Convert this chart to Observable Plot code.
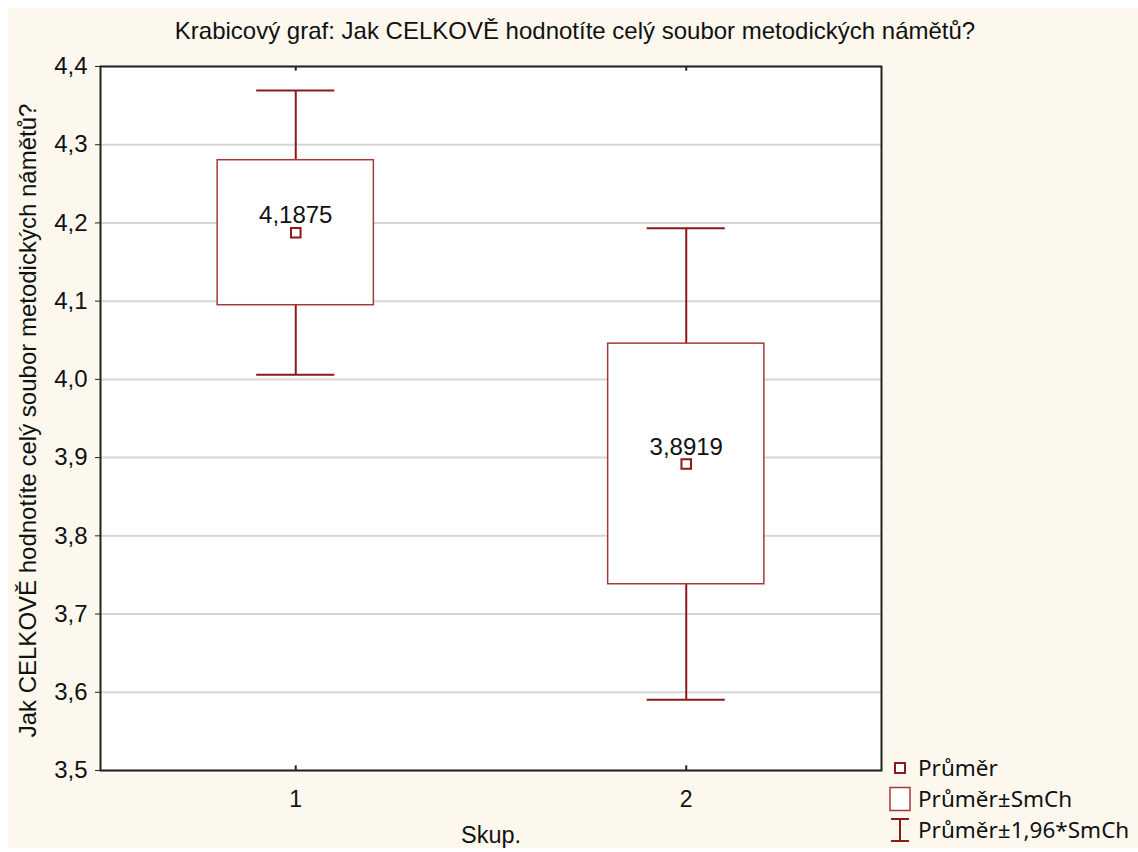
<!DOCTYPE html>
<html>
<head>
<meta charset="utf-8">
<script src="https://cdn.jsdelivr.net/npm/d3@7"></script>
<script src="https://cdn.jsdelivr.net/npm/@observablehq/plot@0.6"></script>
<style>
  html, body { margin: 0; padding: 0; background: #ffffff; }
  #page { position: relative; width: 1138px; height: 852px; overflow: hidden; }
  #paper { position: absolute; left: 8px; top: 8px; right: 0; bottom: 4px; background: #fdf8ee; }
  #chart { position: absolute; left: 0; top: 0; }
  #title { position: absolute; left: 0; width: 1150px; top: 17px; text-align: center;
           font-family: "Liberation Sans", Arial, sans-serif; font-size: 24px; color: #111; }
  #legend { position: absolute; left: 888px; top: 752px; font-family: "Noto Sans", "Open Sans", sans-serif;
            font-size: 22.5px; color: #111; }
  #legend .row { display: flex; align-items: center; height: 31px; }
  #legend svg { width: 24px; height: 26px; margin-right: 6px; }
</style>
</head>
<body>
<div id="page">
  <div id="paper"></div>
  <div id="chart"></div>
  <div id="title">Krabicový graf: Jak CELKOVĚ hodnotíte celý soubor metodických námětů?</div>
  <div id="legend"></div>
</div>
<script>
// Groups and their summary statistics (mean and standard error)
const groups = [1, 2];
const means = [4.1875, 3.8919];
const stdErrors = [0.0927, 0.1538];
const yTicks = [3.5, 3.6, 3.7, 3.8, 3.9, 4.0, 4.1, 4.2, 4.3, 4.4];
const xLabel = "Skup.";
const yLabel = "Jak CELKOVĚ hodnotíte celý soubor metodických námětů?";
const legendLabels = ["Průměr", "Průměr±SmCh", "Průměr±1,96*SmCh"];

const RED = "#8b1a1a";
const BOX_STROKE = "#a33a3a";
const z = 1.96;          // multiplier for the whiskers
const boxHalf = 0.2;     // half-width of the box, in x units
const capHalf = 0.1;     // half-width of the whisker caps

const rows = groups.map((g, i) => ({
  g,
  mean: means[i],
  se: stdErrors[i],
  lo1: means[i] - stdErrors[i],
  hi1: means[i] + stdErrors[i],
  lo2: means[i] - z * stdErrors[i],
  hi2: means[i] + z * stdErrors[i]
}));

const comma = (d, digits) => d.toFixed(digits).replace(".", ",");

const chart = Plot.plot({
  width: 1138,
  height: 852,
  marginLeft: 100,
  marginRight: 257,
  marginTop: 66,
  marginBottom: 82,
  style: { background: "transparent", fontFamily: "'Liberation Sans', Arial, sans-serif", color: "#111" },
  x: { domain: [0.5, 2.5] },
  y: { domain: [3.5, 4.4] },
  marks: [
    Plot.frame({ fill: "white" }),
    Plot.gridY(yTicks, { stroke: "#d6d6d6", strokeOpacity: 1, strokeWidth: 2 }),
    // whisker stems: mean ± 1.96·SE
    Plot.ruleX(rows, { x: "g", y1: "lo2", y2: "hi2", stroke: RED, strokeWidth: 2 }),
    // whisker caps
    Plot.ruleY(rows, { y: "hi2", x1: d => d.g - capHalf, x2: d => d.g + capHalf, stroke: RED, strokeWidth: 2 }),
    Plot.ruleY(rows, { y: "lo2", x1: d => d.g - capHalf, x2: d => d.g + capHalf, stroke: RED, strokeWidth: 2 }),
    // boxes: mean ± SE
    Plot.rect(rows, { x1: d => d.g - boxHalf, x2: d => d.g + boxHalf, y1: "lo1", y2: "hi1",
                      fill: "white", stroke: BOX_STROKE, strokeWidth: 1.5 }),
    // mean markers
    Plot.dot(rows, { x: "g", y: "mean", symbol: "square", r: 5.4, fill: "white", stroke: RED, strokeWidth: 2 }),
    Plot.text(rows, { x: "g", y: "mean", text: d => comma(d.mean, 4), dy: -17, fontSize: 24, fill: "#111" }),
    Plot.frame({ stroke: "#222", strokeWidth: 2 }),
    // inner ticks on the top and bottom edges
    Plot.ruleX(groups, { x: d => d, y1: 3.5, y2: 3.506, stroke: "#222", strokeWidth: 2 }),
    Plot.ruleX(groups, { x: d => d, y1: 4.4, y2: 4.394, stroke: "#222", strokeWidth: 2 }),
    Plot.axisY(yTicks, { tickSize: 5, tickPadding: 8, fontSize: 24, tickFormat: d => comma(d, 1), label: null, stroke: "#222" }),
    Plot.axisX(groups, { tickSize: 0, tickPadding: 20, fontSize: 23, tickFormat: d => String(d), label: null }),
    Plot.text([yLabel], { frameAnchor: "left", textAnchor: "middle", dx: -72, dy: 2, rotate: -90, fontSize: 24, fill: "#111", text: d => d }),
    Plot.text([xLabel], { frameAnchor: "bottom", textAnchor: "middle", dy: 72, fontSize: 23.5, fill: "#111", text: d => d })
  ]
});
document.getElementById("chart").appendChild(chart);

// Legend
const icons = [
  `<svg viewBox="0 0 24 26"><rect x="7" y="8" width="10" height="10" fill="white" stroke="${RED}" stroke-width="2"/></svg>`,
  `<svg viewBox="0 0 24 26"><rect x="2" y="1.5" width="20" height="23" fill="white" stroke="${BOX_STROKE}" stroke-width="1.5"/></svg>`,
  `<svg viewBox="0 0 24 26"><path d="M3 2H21M12 2V24M3 24H21" fill="none" stroke="${RED}" stroke-width="2"/></svg>`
];
document.getElementById("legend").innerHTML = legendLabels
  .map((t, i) => `<div class="row">${icons[i]}<span>${t}</span></div>`)
  .join("");
</script>
</body>
</html>
